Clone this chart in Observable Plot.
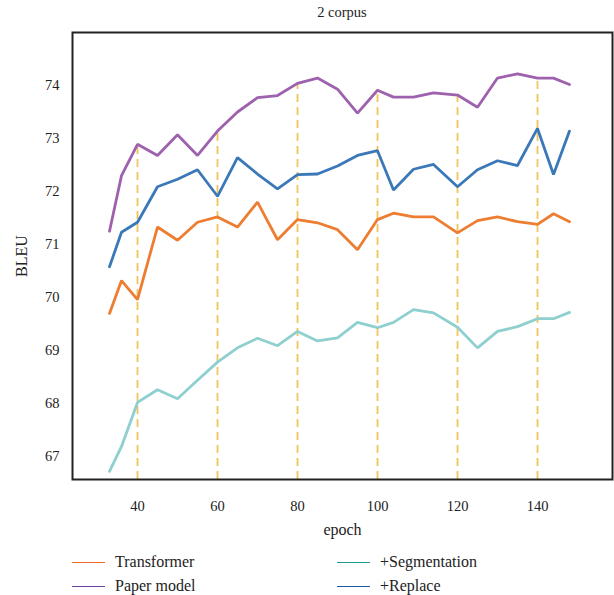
<!DOCTYPE html>
<html>
<head>
<meta charset="utf-8">
<script src="https://cdn.jsdelivr.net/npm/d3@7"></script>
<script src="https://cdn.jsdelivr.net/npm/@observablehq/plot@0.6"></script>
<style>
  body { margin: 0; background: #fff; font-family: "Liberation Serif", serif; color: #222; }
  #wrap { width: 614px; position: relative; }
  #title { height: 22px; line-height: 24px; padding-left: 72px; width: 540px; text-align: center; font-size: 14.5px; }
  #legend { position: relative; height: 53px; font-size: 16px; }
  .item { position: absolute; display: flex; align-items: center; height: 24px; }
  .sw { width: 33px; height: 0; border-top: 1.6px solid; margin-right: 10px; }
  svg g[aria-label="x-axis label"] text, svg g[aria-label="y-axis label"] text { font-size: 16px; }
</style>
</head>
<body>
<div id="wrap">
  <div id="title">2 corpus</div>
  <div id="chart"></div>
  <div id="legend"></div>
</div>
<script>
const epochs = [33,36,40,45,50,55,60,65,70,75,80,85,90,95,100,104,109,114,120,125,130,135,140,144,148];
const transformer = [69.70,70.32,69.96,71.33,71.08,71.42,71.52,71.33,71.80,71.09,71.47,71.41,71.28,70.90,71.47,71.59,71.52,71.52,71.22,71.45,71.52,71.43,71.38,71.58,71.43];
const paperModel = [71.25,72.30,72.89,72.68,73.07,72.68,73.14,73.50,73.77,73.81,74.04,74.14,73.93,73.48,73.91,73.78,73.78,73.86,73.82,73.59,74.14,74.22,74.14,74.14,74.02];
const segmentation = [66.72,67.19,68.02,68.26,68.09,68.44,68.78,69.05,69.23,69.09,69.36,69.18,69.24,69.53,69.43,69.53,69.77,69.71,69.44,69.05,69.36,69.45,69.60,69.60,69.72];
const replace = [70.58,71.23,71.42,72.09,72.23,72.41,71.91,72.64,72.33,72.05,72.32,72.33,72.48,72.68,72.77,72.03,72.42,72.51,72.09,72.41,72.58,72.49,73.19,72.32,73.14];
const xTicks = [40,60,80,100,120,140];
const yTicks = [67,68,69,70,71,72,73,74];
const guideEpochs = [40,60,80,100,120,140];

const seriesNames = ["Transformer","Paper model","+Segmentation","+Replace"];
const seriesValues = [transformer, paperModel, segmentation, replace];
const lineColors = ["#ed7d31","#9e61ad","#8ecfcf","#3a78b8"];
const legendColors = ["#f26b2a","#6b3fa0","#1a9b95","#1f56a0"];

const yMin = 66.566, yMax = 75.0;

const data = [];
seriesNames.forEach((name, i) => {
  epochs.forEach((e, j) => data.push({series: name, epoch: e, bleu: seriesValues[i][j]}));
});
const guides = guideEpochs.map(e => ({epoch: e, top: paperModel[epochs.indexOf(e)]}));

const plot = Plot.plot({
  width: 614,
  height: 520,
  marginTop: 10,
  marginBottom: 63,
  marginLeft: 72,
  marginRight: 2,
  style: {fontFamily: "Liberation Serif", fontSize: "14.5px", color: "#222", background: "#fff"},
  x: {domain: [23.75, 158.75]},
  y: {domain: [yMin, yMax]},
  marks: [
    Plot.ruleX(guides, {x: "epoch", y1: yMin, y2: "top", stroke: "#f2c25c", strokeWidth: 1.8, strokeDasharray: "8,5"}),
    ...seriesNames.map((name, i) =>
      Plot.line(data.filter(d => d.series === name), {x: "epoch", y: "bleu", stroke: lineColors[i], strokeWidth: 2.8, strokeLinejoin: "miter"})
    ),
    Plot.frame({stroke: "#222", strokeWidth: 2}),
    Plot.axisX({ticks: xTicks, tickSize: 0, tickPadding: 21, label: "epoch", labelAnchor: "center", labelArrow: "none", labelOffset: 55}),
    Plot.axisY({ticks: yTicks, tickSize: 0, tickPadding: 13, tickFormat: d => String(d), label: "BLEU", labelAnchor: "center", labelArrow: "none", labelOffset: 57})
  ]
});
document.getElementById("chart").appendChild(plot);

const legend = document.getElementById("legend");
const positions = [[72, 8], [72, 32], [337, 8], [337, 32]];
seriesNames.forEach((name, i) => {
  const it = document.createElement("div");
  it.className = "item";
  it.style.left = positions[i][0] + "px";
  it.style.top = positions[i][1] + "px";
  const sw = document.createElement("div");
  sw.className = "sw";
  sw.style.borderTopColor = legendColors[i];
  const tx = document.createElement("span");
  tx.textContent = name;
  it.appendChild(sw); it.appendChild(tx);
  legend.appendChild(it);
});
</script>
</body>
</html>
